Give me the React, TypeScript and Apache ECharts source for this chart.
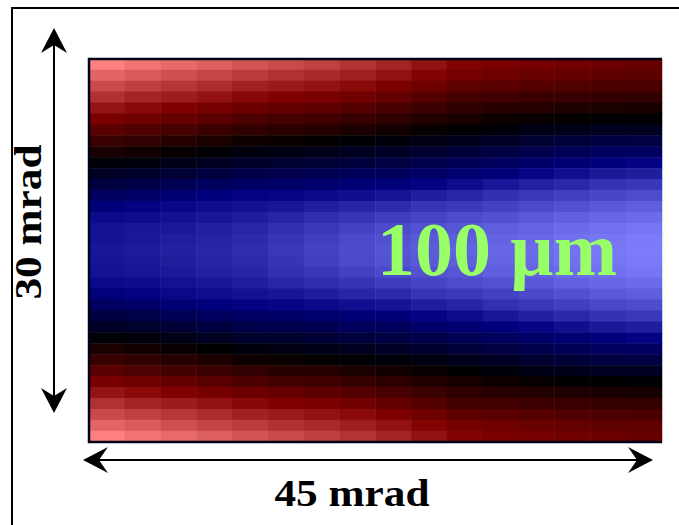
import React, { useEffect, useRef } from "react";
import * as echarts from "echarts";

// Horizontal angle (mrad) at the centre of each heatmap column
const xCategories = [
  "1.4", "4.2", "7.0", "9.8", "12.7", "15.5", "18.3", "21.1",
  "23.9", "26.7", "29.5", "32.3", "35.2", "38.0", "40.8", "43.6",
];

// Vertical angle (mrad) at the centre of each heatmap row (top to bottom)
const yCategories = [
  "29.6", "28.7", "27.9", "27.0", "26.1", "25.3", "24.4", "23.6", "22.7",
  "21.9", "21.0", "20.1", "19.3", "18.4", "17.6", "16.7", "15.9", "15.0",
  "14.1", "13.3", "12.4", "11.6", "10.7", "9.9", "9.0", "8.1", "7.3",
  "6.4", "5.6", "4.7", "3.9", "3.0", "2.1", "1.3", "0.4",
];

// Fringe value (-1 light red ... 0 black ... +1 light blue), top edge down to the centre row
const upperRows: number[][] = [
  [-1.0, -0.95, -0.91, -0.87, -0.83, -0.79, -0.75, -0.7, -0.64, -0.57, -0.51, -0.48, -0.46, -0.44, -0.42, -0.4],
  [-0.89, -0.85, -0.81, -0.77, -0.73, -0.69, -0.66, -0.62, -0.57, -0.51, -0.46, -0.43, -0.41, -0.39, -0.37, -0.36],
  [-0.79, -0.75, -0.71, -0.67, -0.63, -0.6, -0.57, -0.54, -0.49, -0.43, -0.36, -0.35, -0.33, -0.31, -0.3, -0.29],
  [-0.69, -0.64, -0.61, -0.57, -0.53, -0.5, -0.48, -0.44, -0.39, -0.33, -0.27, -0.26, -0.24, -0.22, -0.21, -0.2],
  [-0.58, -0.54, -0.5, -0.46, -0.42, -0.39, -0.37, -0.33, -0.28, -0.23, -0.18, -0.16, -0.14, -0.12, -0.1, -0.09],
  [-0.47, -0.43, -0.39, -0.35, -0.3, -0.27, -0.25, -0.21, -0.18, -0.13, -0.09, -0.06, -0.03, -0.01, 0.01, 0.02],
  [-0.35, -0.31, -0.27, -0.23, -0.19, -0.16, -0.14, -0.1, -0.07, -0.03, 0.0, 0.04, 0.08, 0.1, 0.13, 0.13],
  [-0.22, -0.19, -0.15, -0.11, -0.06, -0.04, -0.02, 0.02, 0.04, 0.07, 0.11, 0.15, 0.19, 0.22, 0.25, 0.26],
  [-0.1, -0.07, -0.03, 0.01, 0.05, 0.07, 0.09, 0.13, 0.15, 0.18, 0.22, 0.26, 0.3, 0.33, 0.37, 0.38],
  [0.03, 0.05, 0.09, 0.13, 0.17, 0.19, 0.21, 0.24, 0.26, 0.29, 0.33, 0.37, 0.41, 0.45, 0.48, 0.51],
  [0.14, 0.17, 0.21, 0.25, 0.28, 0.3, 0.32, 0.35, 0.36, 0.4, 0.44, 0.48, 0.52, 0.56, 0.6, 0.62],
  [0.25, 0.28, 0.33, 0.37, 0.39, 0.41, 0.43, 0.46, 0.47, 0.51, 0.55, 0.59, 0.63, 0.66, 0.7, 0.72],
  [0.37, 0.4, 0.45, 0.49, 0.51, 0.52, 0.54, 0.56, 0.58, 0.62, 0.65, 0.69, 0.72, 0.75, 0.78, 0.8],
  [0.48, 0.51, 0.53, 0.55, 0.57, 0.59, 0.62, 0.65, 0.67, 0.71, 0.73, 0.76, 0.79, 0.82, 0.85, 0.87],
  [0.54, 0.55, 0.57, 0.59, 0.62, 0.65, 0.68, 0.71, 0.74, 0.77, 0.8, 0.82, 0.85, 0.88, 0.9, 0.92],
  [0.57, 0.59, 0.6, 0.63, 0.65, 0.69, 0.72, 0.76, 0.79, 0.82, 0.84, 0.87, 0.89, 0.92, 0.94, 0.96],
  [0.58, 0.6, 0.62, 0.64, 0.67, 0.71, 0.75, 0.79, 0.82, 0.85, 0.87, 0.89, 0.91, 0.94, 0.96, 0.98],
  [0.59, 0.61, 0.63, 0.65, 0.68, 0.72, 0.76, 0.8, 0.83, 0.86, 0.88, 0.9, 0.92, 0.95, 0.97, 0.99],
];

// The picture is mirror-symmetric about its horizontal centre line
const lowerRows: number[][] = upperRows.slice(0, 17).reverse();
const gridRows: number[][] = [...upperRows, ...lowerRows];

const colorStops = ["#ff8080", "#800000", "#000000", "#000080", "#8080ff"];

const xLabel = "45 mrad";
const yLabel = "30 mrad";
const sizeLabel = "100 µm";

export default function App() {
  const ref = useRef<HTMLDivElement>(null);

  useEffect(() => {
    document.body.style.margin = "0";
    if (!ref.current) return;
    const chart = echarts.init(ref.current, null, { renderer: "svg" });

    const data: [number, number, number][] = [];
    gridRows.forEach((row, r) => {
      row.forEach((v, c) => data.push([c, r, v]));
    });

    const font = '"Liberation Serif", "Times New Roman", serif';

    chart.setOption({
      animation: false,
      backgroundColor: "#ffffff",
      grid: { left: 89, top: 59, right: 17, bottom: 83, containLabel: false },
      xAxis: { type: "category", data: xCategories, show: false },
      yAxis: { type: "category", data: yCategories, show: false, inverse: true },
      visualMap: {
        show: false,
        type: "continuous",
        min: -1,
        max: 1,
        calculable: false,
        inRange: { color: colorStops },
      },
      series: [
        {
          type: "heatmap",
          data,
          progressive: 0,
          itemStyle: { borderWidth: 0 },
          emphasis: { disabled: true },
        },
      ],
      graphic: [
        {
          type: "rect",
          z: 100,
          shape: { x: 12, y: 8, width: 720, height: 560 },
          style: { fill: "none", stroke: "#000", lineWidth: 2 },
        },
        {
          type: "polyline",
          z: 100,
          shape: { points: [[662, 59], [89, 59], [89, 442], [662, 442]] },
          style: { fill: "none", stroke: "#000018", lineWidth: 2.5 },
        },
        // vertical double arrow
        {
          type: "line",
          z: 100,
          shape: { x1: 54, y1: 44, x2: 54, y2: 397 },
          style: { stroke: "#000", lineWidth: 2 },
        },
        {
          type: "polygon",
          z: 100,
          shape: { points: [[54, 28], [41, 53], [54, 45], [67, 53]] },
          style: { fill: "#000" },
        },
        {
          type: "polygon",
          z: 100,
          shape: { points: [[54, 413], [41, 388], [54, 396], [67, 388]] },
          style: { fill: "#000" },
        },
        // horizontal double arrow
        {
          type: "line",
          z: 100,
          shape: { x1: 98, y1: 460, x2: 638, y2: 460 },
          style: { stroke: "#000", lineWidth: 2 },
        },
        {
          type: "polygon",
          z: 100,
          shape: { points: [[83, 460], [108, 447], [99, 460], [108, 473]] },
          style: { fill: "#000" },
        },
        {
          type: "polygon",
          z: 100,
          shape: { points: [[653, 460], [628, 447], [637, 460], [628, 473]] },
          style: { fill: "#000" },
        },
        {
          type: "text",
          z: 100,
          x: 29,
          y: 222,
          rotation: Math.PI / 2,
          scaleX: 1.17,
          style: {
            text: yLabel,
            font: `bold 37px ${font}`,
            fill: "#000",
            align: "center",
            verticalAlign: "middle",
          },
        },
        {
          type: "text",
          z: 100,
          x: 352,
          y: 494,
          scaleX: 1.17,
          style: {
            text: xLabel,
            font: `bold 37px ${font}`,
            fill: "#000",
            align: "center",
            verticalAlign: "middle",
          },
        },
        {
          type: "text",
          z: 100,
          x: 497,
          y: 249,
          style: {
            text: sizeLabel,
            font: `bold 76px ${font}`,
            fill: "#99ff66",
            align: "center",
            verticalAlign: "middle",
          },
        },
      ],
    });

    return () => chart.dispose();
  }, []);

  return <div ref={ref} style={{ width: 679, height: 525 }} />;
}
